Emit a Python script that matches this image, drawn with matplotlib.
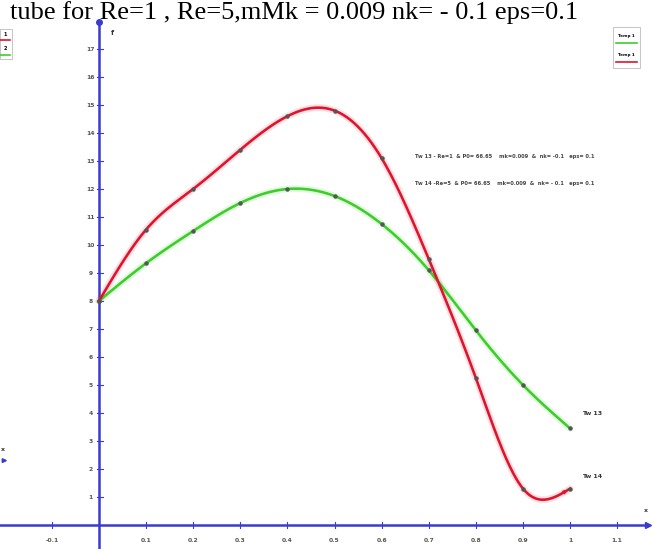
import numpy as np
import matplotlib
matplotlib.use("Agg")
import matplotlib.pyplot as plt
from matplotlib.patches import Rectangle

# Sampled profiles along the tube
x_pts = [0.0, 0.1, 0.2, 0.3, 0.4, 0.5, 0.6, 0.7, 0.8, 0.9, 1.0]
tw14 = [8.0, 10.55, 12.0, 13.4, 14.6, 14.8, 13.1, 9.5, 5.25, 1.3, 1.3]   # Re=5 (red)
tw13 = [8.0, 9.35, 10.5, 11.5, 12.0, 11.75, 10.75, 9.1, 6.95, 5.0, 3.45]  # Re=1 (green)

x_ticks = [-0.1, 0.1, 0.2, 0.3, 0.4, 0.5, 0.6, 0.7, 0.8, 0.9, 1.0, 1.1]
x_tick_labels = ["-0.1", "0.1", "0.2", "0.3", "0.4", "0.5", "0.6", "0.7", "0.8", "0.9", "1", "1.1"]
y_ticks = list(range(1, 18))

title = "tube for Re=1 , Re=5,mMk = 0.009 nk= - 0.1 eps=0.1"
desc13 = "Tw 13 - Re=1  & P0= 66.65    mk=0.009  &  nk= -0.1   eps= 0.1"
desc14 = "Tw 14 -Re=5  & P0= 66.65    mk=0.009  &  nk= - 0.1   eps= 0.1"


def natural_spline(x, y, n=400):
    x = np.asarray(x, float)
    y = np.asarray(y, float)
    m = len(x)
    h = np.diff(x)
    A = np.zeros((m, m))
    b = np.zeros(m)
    A[0, 0] = A[-1, -1] = 1.0
    for i in range(1, m - 1):
        A[i, i - 1] = h[i - 1]
        A[i, i] = 2 * (h[i - 1] + h[i])
        A[i, i + 1] = h[i]
        b[i] = 6 * ((y[i + 1] - y[i]) / h[i] - (y[i] - y[i - 1]) / h[i - 1])
    M = np.linalg.solve(A, b)
    xs = np.linspace(x[0], x[-1], n)
    k = np.clip(np.searchsorted(x, xs) - 1, 0, m - 2)
    t0 = x[k + 1] - xs
    t1 = xs - x[k]
    hk = h[k]
    ys = (M[k] * t0 ** 3 / (6 * hk) + M[k + 1] * t1 ** 3 / (6 * hk)
          + (y[k] / hk - M[k] * hk / 6) * t0 + (y[k + 1] / hk - M[k + 1] * hk / 6) * t1)
    return xs, ys


W, H = 653, 549
fig = plt.figure(figsize=(W / 100, H / 100), dpi=100)
ax = fig.add_axes([0, 0, 1, 1])
ax.set_xlim(-0.210, 1.176)
ax.set_ylim(-0.857, 18.75)
ax.axis("off")

blue = "#3b3bd0"
red = "#e0142e"
green = "#3ccf2a"
tick_col = "#555555"

# coordinate axes with arrow heads
ax.plot([-0.210, 1.165], [0, 0], color=blue, lw=1.8, zorder=2)
ax.plot([1.165], [0], marker=">", color=blue, ms=5, zorder=2)
ax.plot([0, 0], [-0.857, 17.95], color=blue, lw=1.8, zorder=2)
ax.plot([0], [17.95], marker="o", color=blue, ms=4, zorder=2)
ax.text(1.16, 0.45, "x", fontsize=4.5, color="#333333", ha="center", fontweight="bold")
ax.text(0.025, 17.5, "f", fontsize=5, color="#333333", ha="left", fontweight="bold")

for xt, lab in zip(x_ticks, x_tick_labels):
    ax.plot([xt, xt], [-0.1, 0.1], color=blue, lw=0.8, zorder=2)
    ax.text(xt, -0.55, lab, fontsize=4.3, color=tick_col, ha="center", va="center",
            fontweight="bold")
for yt in y_ticks:
    ax.plot([-0.004, 0.008], [yt, yt], color=blue, lw=0.8, zorder=2)
    ax.text(-0.018, yt, str(yt), fontsize=4.3, color=tick_col, ha="center", va="center",
            fontweight="bold")

# left-edge axis marker
ax.annotate("", xy=(-0.188, 2.3), xytext=(-0.210, 2.3),
            arrowprops=dict(arrowstyle="-|>", color=blue, lw=1.2, mutation_scale=6))
ax.text(-0.203, 2.65, "x", fontsize=4.5, color="#333333", ha="center", fontweight="bold")

# curves with soft halo
for ys_pts, col in [(tw13, green), (tw14, red)]:
    xs, ys = natural_spline(x_pts, ys_pts)
    ax.plot(xs, ys, color=col, lw=5, alpha=0.12, solid_capstyle="round", zorder=3)
    ax.plot(xs, ys, color=col, lw=1.9, zorder=4)
    ax.plot(x_pts, ys_pts, "o", color="#555555", ms=2.2, zorder=5)

# end labels
ax.annotate("", xy=(1.0, tw14[-1]), xytext=(0.985, tw14[-1] - 0.15),
            arrowprops=dict(arrowstyle="-|>", color=red, lw=1.2, mutation_scale=5), zorder=5)
ax.text(1.025, tw13[-1] + 0.55, "Tw 13", fontsize=4.5, color="#333333", va="center",
        fontweight="bold")
ax.text(1.025, tw14[-1] + 0.45, "Tw 14", fontsize=4.5, color="#333333", va="center",
        fontweight="bold")

# descriptions
ax.text(0.671, 13.15, desc13, fontsize=3.7, color="#444444", va="center", fontweight="bold")
ax.text(0.671, 12.2, desc14, fontsize=3.7, color="#444444", va="center", fontweight="bold")

# title
fig.text(10 / W, 1 - 19.5 / H, title, fontsize=19.0, family="Liberation Serif",
         color="black", ha="left", va="baseline")


def px_rect(x0, y0, w, h, **kw):
    return Rectangle((x0 / W, 1 - (y0 + h) / H), w / W, h / H,
                     transform=fig.transFigure, **kw)


# small key boxes
fig.patches.append(px_rect(0, 29, 12, 30, fill=False, ec="#bbbbbb", lw=0.6))
fig.lines.append(plt.Line2D([0, 10 / W], [1 - 40 / H, 1 - 40 / H], color=red, lw=1.2,
                            transform=fig.transFigure))
fig.lines.append(plt.Line2D([0, 10 / W], [1 - 55 / H, 1 - 55 / H], color=green, lw=1.2,
                            transform=fig.transFigure))
fig.text(5 / W, 1 - 35 / H, "1", fontsize=3.5, ha="center", va="center", fontweight="bold")
fig.text(5 / W, 1 - 49 / H, "2", fontsize=3.5, ha="center", va="center", fontweight="bold")

fig.patches.append(px_rect(613, 27, 27, 41, fill=False, ec="#bbbbbb", lw=0.6))
fig.lines.append(plt.Line2D([616 / W, 637 / W], [1 - 43 / H, 1 - 43 / H], color=green, lw=1.2,
                            transform=fig.transFigure))
fig.lines.append(plt.Line2D([616 / W, 637 / W], [1 - 62 / H, 1 - 62 / H], color=red, lw=1.2,
                            transform=fig.transFigure))
fig.text(626 / W, 1 - 36 / H, "Temp 1", fontsize=3, ha="center", va="center", fontweight="bold")
fig.text(626 / W, 1 - 55 / H, "Temp 1", fontsize=3, ha="center", va="center", fontweight="bold")

fig.savefig("out.png", dpi=100)
